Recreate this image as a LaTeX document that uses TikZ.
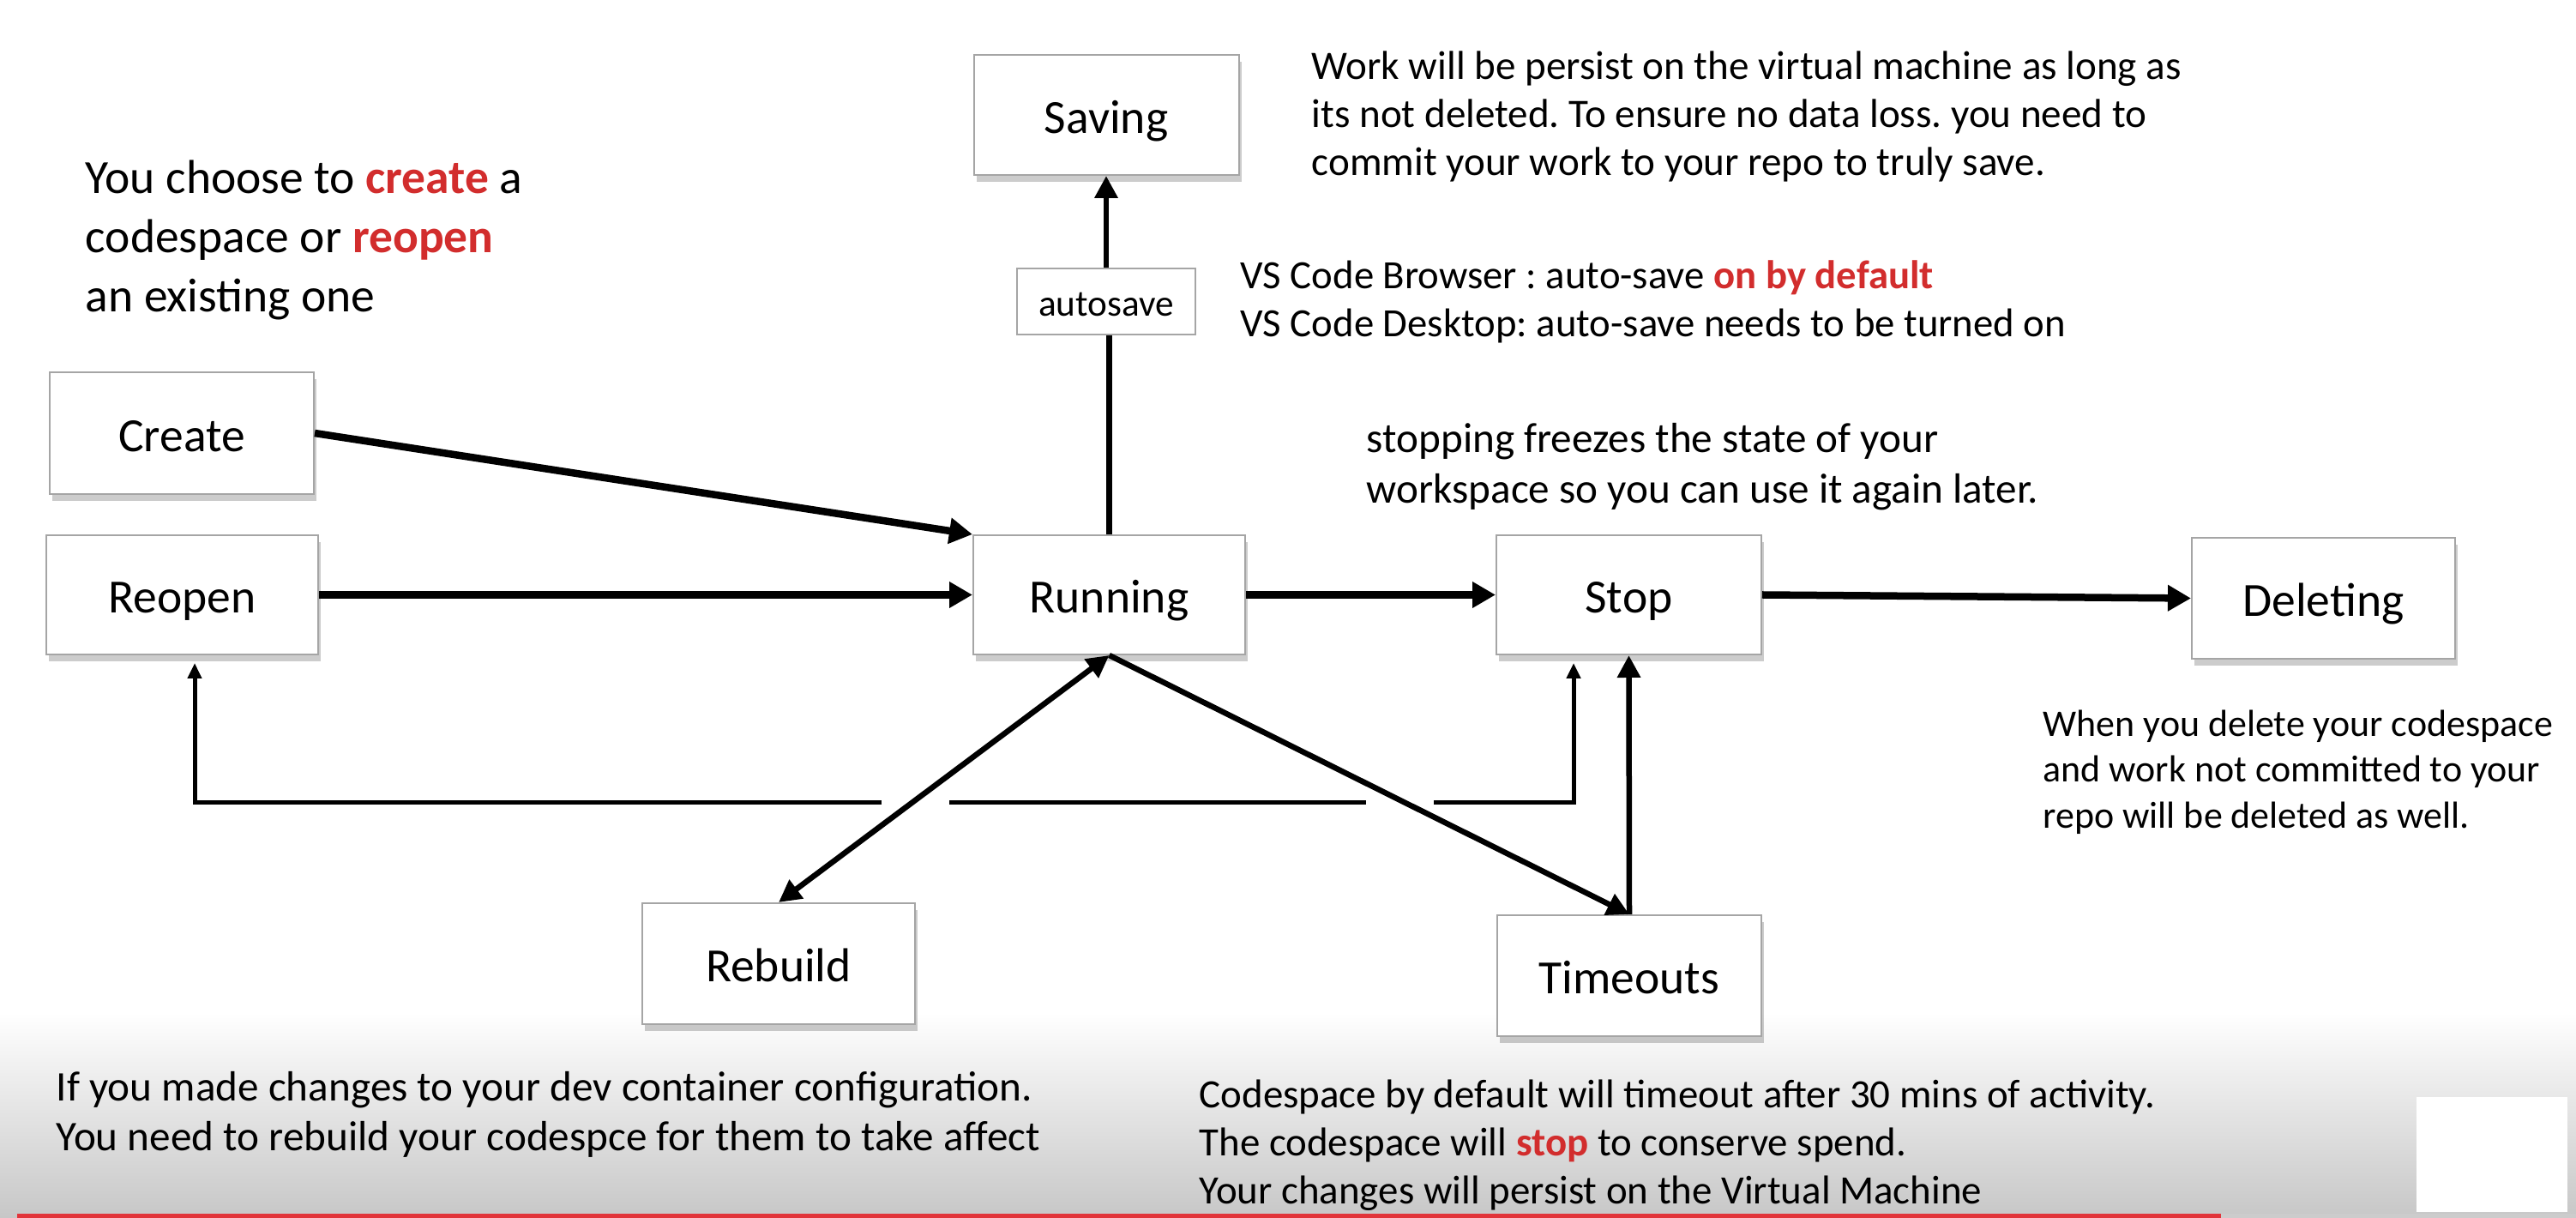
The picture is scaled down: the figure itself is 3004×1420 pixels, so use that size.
\documentclass[tikz,border=0pt]{standalone}
\usepackage{fontspec}
\setmainfont{Carlito}
\usetikzlibrary{arrows.meta,shadows}
\definecolor{hl}{RGB}{210,45,45}
\definecolor{boxborder}{RGB}{165,165,165}
\definecolor{barred}{RGB}{226,52,58}
\frenchspacing
\begin{document}
\begin{tikzpicture}[x=0.1mm,y=-0.1mm,
  box/.style={draw=boxborder, line width=0.2mm, fill=white,
    drop shadow={shadow xshift=0.3mm, shadow yshift=-0.8mm, fill=black, opacity=0.2},
    inner sep=0pt, text height=12pt, text depth=0pt, font=\fontsize{15.8}{19}\selectfont},
  smallbox/.style={draw=boxborder, line width=0.2mm, fill=white, inner sep=0pt,
    text height=9.5pt, text depth=0pt, font=\fontsize{12.3}{15}\selectfont},
  thickarrow/.style={line width=0.85mm, -{Triangle[length=2.7mm,width=2.9mm]}},
  medline/.style={line width=0.65mm},
  medarrow/.style={line width=0.65mm, -{Triangle[length=2.6mm,width=2.6mm]}},
  medboth/.style={line width=0.65mm, {Triangle[length=2.6mm,width=2.6mm]}-{Triangle[length=2.6mm,width=2.6mm]}},
  thinline/.style={line width=0.5mm},
  thinarrow/.style={line width=0.5mm, -{Triangle[length=1.8mm,width=1.6mm]}},
  note/.style={anchor=west, align=left, inner sep=0pt},
]
\useasboundingbox (0,0) rectangle (3004,1420);
% bottom video overlay
\shade[top color=white, bottom color=black!22, draw=none] (0,1180) rectangle (3004,1420);
\fill[white] (2818,1279) rectangle (2994,1413);
\fill[barred] (20,1415) rectangle (2590,1420);
\fill[black!20] (2590,1415) rectangle (3004,1420);

% boxes
\node[box, minimum width=30.9mm, minimum height=14.0mm] (Saving) at (1290,134) {Saving};
\node[smallbox, minimum width=20.8mm, minimum height=7.7mm] (autosave) at (1290,351.5) {autosave};
\node[box, minimum width=30.8mm, minimum height=14.2mm] (Create) at (212,505) {Create};
\node[box, minimum width=31.7mm, minimum height=13.9mm] (Reopen) at (212.5,693.5) {Reopen};
\node[box, minimum width=31.7mm, minimum height=13.9mm] (Running) at (1293.5,693.5) {Running};
\node[box, minimum width=30.9mm, minimum height=13.9mm] (Stop) at (1899.5,693.5) {Stop};
\node[box, minimum width=30.7mm, minimum height=14.1mm] (Deleting) at (2709.5,697.5) {Deleting};
\node[box, minimum width=31.8mm, minimum height=14.1mm] (Rebuild) at (908,1123.5) {Rebuild};
\node[box, minimum width=30.8mm, minimum height=14.1mm] (Timeouts) at (1900,1137.5) {Timeouts};

% connectors
\draw[thickarrow] (Create.east) -- (Running.north west);
\draw[thickarrow] (Reopen.east) -- (Running.west);
\draw[thickarrow] (Running.east) -- (Stop.west);
\draw[thickarrow] (Stop.east) -- (Deleting.west);
\draw[medline] (Running.north) -- (Running.north |- autosave.south);
\draw[medarrow] (autosave.north) -- (Saving.south);
\draw[medboth] (Rebuild.north) -- (Running.south);
\draw[medarrow] (Running.south) -- (Timeouts.north);
\draw[medarrow] (Timeouts.north) -- (Stop.south);

\coordinate (fbL) at (227,936);
\coordinate (fbR) at (1835,936);
\coordinate (reoTip) at (227,773);
\coordinate (stopTip) at (1835,773);
\coordinate (gapAa) at (1028,936);
\coordinate (gapAb) at (1107,936);
\coordinate (gapBa) at (1593,936);
\coordinate (gapBb) at (1672,936);
\draw[thinarrow] (gapAa) -- (fbL) -- (reoTip);
\draw[thinline] (gapAb) -- (gapBa);
\draw[thinarrow] (gapBb) -- (fbR) -- (stopTip);

% texts
\node[note, font=\fontsize{15.8}{19.6}\selectfont] (tChoose) at (99,280)
  {You choose to \textbf{\textcolor{hl}{create}} a\\codespace or \textbf{\textcolor{hl}{reopen}}\\an existing one};
\node[note, font=\fontsize{13.4}{15.9}\selectfont] (tWork) at (1529,136)
  {Work will be persist on the virtual machine as long as\\its not deleted. To ensure no data loss. you need to\\commit your work to your repo to truly save.};
\node[note, font=\fontsize{13.3}{15.9}\selectfont] (tVS) at (1446,352)
  {VS Code Browser : auto-save \textbf{\textcolor{hl}{on by default}}\\VS Code Desktop: auto-save needs to be turned on};
\node[note, font=\fontsize{14}{16.8}\selectfont] (tStop) at (1593,544)
  {stopping freezes the state of your\\workspace so you can use it again later.};
\node[note, font=\fontsize{12.5}{15.2}\selectfont] (tDel) at (2382,900)
  {When you delete your codespace\\and work not committed to your\\repo will be deleted as well.};
\node[note, font=\fontsize{14}{16.5}\selectfont] (tRebuild) at (65,1299)
  {If you made changes to your dev container configuration.\\You need to rebuild your codespce for them to take affect};
\node[note, font=\fontsize{13.35}{15.9}\selectfont] (tTime) at (1398,1335)
  {Codespace by default will timeout after 30 mins of activity.\\The codespace will \textbf{\textcolor{hl}{stop}} to conserve spend.\\Your changes will persist on the Virtual Machine};
\end{tikzpicture}
\end{document}
